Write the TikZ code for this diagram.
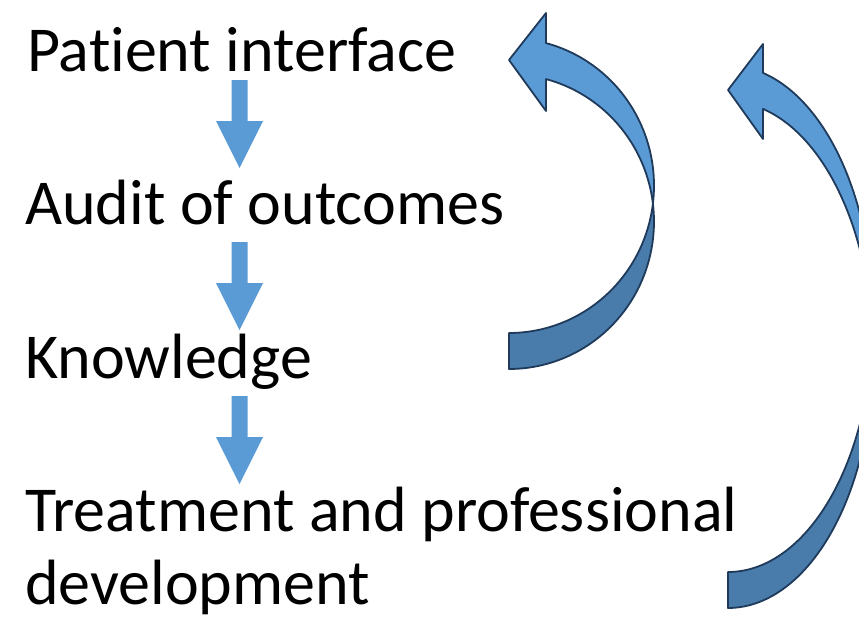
\documentclass[tikz,border=0pt]{standalone}
\usepackage{fontspec}
\setmainfont{Carlito}[RawFeature=-liga]
\definecolor{arrowblue}{HTML}{5B9BD5}
\definecolor{arrowdark}{HTML}{497CAA}
\definecolor{arrowline}{HTML}{1F3A5A}
\tikzset{
  lbl/.style={anchor=base west, inner sep=0pt, font=\fontsize{64}{73}\selectfont},
  blockdown/.pic={\fill[arrowblue] (-8,0) -- (8,0) -- (8,41) -- (23.5,41) -- (0,88) -- (-23.5,41) -- (-8,41) -- cycle;},
  bandlight/.style={fill=arrowblue, draw=arrowline, line width=1.8pt, line join=round},
  banddark/.style={fill=arrowdark, draw=arrowline, line width=1.8pt, line join=round}
}
\begin{document}
\begin{tikzpicture}[x=1pt, y=-1pt]
\useasboundingbox (0,0) rectangle (859,619);
\begin{scope}
\clip (0,0) rectangle (859,619);
% text
\node[lbl] (pi) at (27,71) {Patient interface};
\node[lbl] (ao) at (25,224) {Audit of outcomes};
\node[lbl] (kn) at (25,378) {Knowledge};
\node[lbl] (tr) at (25,531) {Treatment and professional};
\node[lbl] (dv) at (25,604) {development};
% straight block arrows
\pic at (239.5,80) {blockdown};
\pic at (239.5,242) {blockdown};
\pic at (239.5,396) {blockdown};
% curved arrow A
\path[banddark] plot[domain=-7.01:-90, samples=60] ({509+145*cos(\x)},{185.6-147.4*sin(\x)})
  -- plot[domain=-90:7.01, samples=60] ({509+145*cos(\x)},{221.6-147.4*sin(\x)}) -- cycle;
\path[bandlight] plot[domain=75.2:-7.01, samples=60] ({509+145*cos(\x)},{185.6-147.4*sin(\x)})
  -- plot[domain=7.01:75.2, samples=60] ({509+145*cos(\x)},{221.6-147.4*sin(\x)})
  -- (546,111) -- (509,60) -- (546,13) -- cycle;
% curved arrow B
\path[banddark] plot[domain=-4.07:-90, samples=60] ({728+145*cos(\x)},{318.7-253.3*sin(\x)})
  -- plot[domain=-90:4.07, samples=60] ({728+145*cos(\x)},{354.7-253.3*sin(\x)}) -- cycle;
\path[bandlight] plot[domain=76.03:-4.07, samples=60] ({728+145*cos(\x)},{318.7-253.3*sin(\x)})
  -- plot[domain=4.07:76.03, samples=60] ({728+145*cos(\x)},{354.7-253.3*sin(\x)})
  -- (763,139) -- (728,90) -- (763,44) -- cycle;
\end{scope}
\end{tikzpicture}
\end{document}
